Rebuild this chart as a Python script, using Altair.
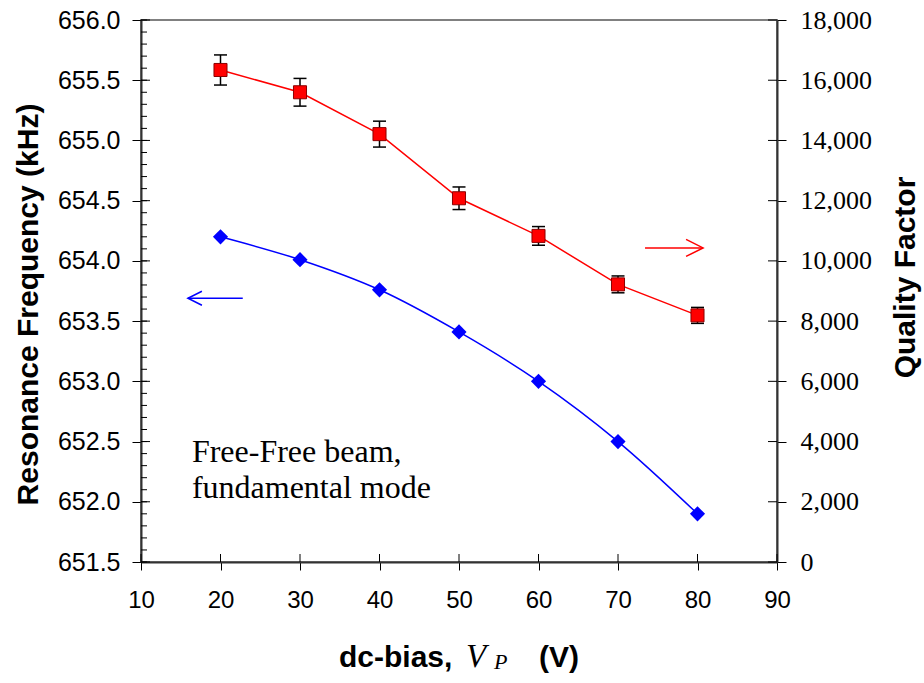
import altair as alt
import pandas as pd

# ---------------- data ----------------
bias_v = [20, 30, 40, 50, 60, 70, 80]
freq_khz = [654.20, 654.01, 653.76, 653.41, 653.00, 652.50, 651.90]
quality = [16340, 15600, 14210, 12080, 10830, 9220, 8190]
quality_err = [500, 460, 430, 375, 310, 280, 265]

x_ticks = [10, 20, 30, 40, 50, 60, 70, 80, 90]
freq_ticks = [651.5, 652.0, 652.5, 653.0, 653.5, 654.0, 654.5, 655.0, 655.5, 656.0]
freq_minor = [round(651.5 + 0.1 * i, 1) for i in range(46)]
q_ticks = [0, 2000, 4000, 6000, 8000, 10000, 12000, 14000, 16000, 18000]

note_lines = ["Free-Free beam,", "fundamental mode"]
note_x = [16.4, 16.4]
note_y = [652.33, 652.03]

# arrows (data coordinates)
blue_arrow = {"x0": [22.8], "x1": [15.9], "f": [653.69]}
red_arrow = {"x0": [73.4], "x1": [80.7], "q": [10430]}

# x-axis title pieces
xt_text = ["dc-bias,", "V", "P", "(V)"]

# ---------------- frames ----------------
df = pd.DataFrame({"V": bias_v, "F": freq_khz, "Q": quality, "E": quality_err})
df["lo"] = df["Q"] - df["E"]
df["hi"] = df["Q"] + df["E"]

BLUE = "#0000FF"
RED = "#FF0000"
AX = "#333333"

xs = alt.Scale(domain=[10, 90], nice=False, zero=False)
fs = alt.Scale(domain=[651.5, 656.0], nice=False, zero=False)
qs = alt.Scale(domain=[0, 18000], nice=False, zero=False)

x_axis = alt.Axis(values=x_ticks, title=None, labelFont="Liberation Sans", labelFontSize=24,
                  labelColor="black", labelPadding=18, labelFlush=False, tickSize=8,
                  tickColor="black", tickWidth=1, domainColor=AX, domainWidth=2, grid=False,
                  orient="bottom")
left_axis = alt.Axis(values=freq_ticks, format=".1f", title="Resonance Frequency (kHz)", orient="left",
                     titleFont="Liberation Sans", titleFontSize=30, titleFontWeight="bold",
                     titleColor="black", titleAngle=270, titleX=-113, titleY=284,
                     titleAlign="center", titleBaseline="middle",
                     labelFont="Liberation Sans", labelFontSize=25, labelColor="black",
                     labelPadding=12, labelFlush=False, tickSize=9, tickColor="black", tickWidth=1,
                     domainColor=AX, domainWidth=2, grid=False)
right_axis = alt.Axis(values=q_ticks, format=",.0f", title="Quality Factor", orient="right",
                      titleFont="Liberation Sans", titleFontSize=30, titleFontWeight="bold",
                      titleColor="black", titleAngle=270, titleX=128, titleY=257,
                      titleAlign="center", titleBaseline="middle",
                      labelFont="Liberation Serif", labelFontSize=26, labelColor="black",
                      labelPadding=14, labelFlush=False, tickSize=9, tickColor="black", tickWidth=1,
                      domainColor=AX, domainWidth=2, grid=False)


def X(field):
    # the same axis on every layer, so the shared x axis merges cleanly
    return alt.X(field, scale=xs, axis=x_axis)


base = alt.Chart(df)

# ---- frequency (left axis) layers ----
blue_line = base.mark_line(color=BLUE, strokeWidth=1.5, interpolate="catmull-rom").encode(
    x=X("V:Q"), y=alt.Y("F:Q", scale=fs, axis=left_axis))
blue_pts = base.mark_point(shape="diamond", filled=True, color=BLUE, size=230, opacity=1).encode(
    x=X("V:Q"), y=alt.Y("F:Q", scale=fs, axis=None))
minor_in = alt.Chart(pd.DataFrame({"t": freq_minor})).mark_rule(color="black", strokeWidth=1).encode(
    y=alt.Y("t:Q", scale=fs, axis=None), x=alt.value(0), x2=alt.value(6))
major_in = alt.Chart(pd.DataFrame({"t": freq_ticks})).mark_rule(color="black", strokeWidth=1).encode(
    y=alt.Y("t:Q", scale=fs, axis=None), x=alt.value(0), x2=alt.value(9))
bottom_in = alt.Chart(pd.DataFrame({"t": x_ticks})).mark_rule(color="black", strokeWidth=1).encode(
    x=X("t:Q"), y=alt.value(542), y2=alt.value(534))

ba = alt.Chart(pd.DataFrame(blue_arrow))
blue_shaft = ba.mark_rule(color=BLUE, strokeWidth=1.5).encode(
    x=X("x0:Q"), x2="x1:Q", y=alt.Y("f:Q", scale=fs, axis=None))
blue_head = ba.mark_point(shape="M 2 -1 L 0 0 L 2 1", filled=False, color=BLUE, size=196,
                          strokeWidth=1.5, opacity=1).encode(
    x=X("x1:Q"), y=alt.Y("f:Q", scale=fs, axis=None))

note = alt.Chart(pd.DataFrame({"s": note_lines, "x": note_x, "y": note_y})).mark_text(
    align="left", baseline="alphabetic", font="Liberation Serif", fontSize=32, color="black").encode(
    x=X("x:Q"), y=alt.Y("y:Q", scale=fs, axis=None), text="s:N")

one = pd.DataFrame({"k": [0]})
xt1 = alt.Chart(one).mark_text(align="left", baseline="alphabetic", font="Liberation Sans",
                               fontSize=30, fontWeight="bold", color="black").encode(
    x=alt.value(198), y=alt.value(647), text=alt.value(xt_text[0]))
xt2 = alt.Chart(one).mark_text(align="left", baseline="alphabetic", font="Liberation Serif",
                               fontSize=33, fontStyle="italic", color="black").encode(
    x=alt.value(325), y=alt.value(647), text=alt.value(xt_text[1]))
xt3 = alt.Chart(one).mark_text(align="left", baseline="alphabetic", font="Liberation Serif",
                               fontSize=22, fontStyle="italic", color="black").encode(
    x=alt.value(353), y=alt.value(649), text=alt.value(xt_text[2]))
xt4 = alt.Chart(one).mark_text(align="left", baseline="alphabetic", font="Liberation Sans",
                               fontSize=30, fontWeight="bold", color="black").encode(
    x=alt.value(398), y=alt.value(647), text=alt.value(xt_text[3]))

# ---- quality factor (right axis) layers ----
red_line = base.mark_line(color=RED, strokeWidth=1.5).encode(
    x=X("V:Q"), y=alt.Y("Q:Q", scale=qs, axis=right_axis))
err = base.mark_rule(color="black", strokeWidth=1.5).encode(
    x=X("V:Q"), y=alt.Y("lo:Q", scale=qs, axis=None), y2="hi:Q")
cap_lo = base.mark_tick(color="black", orient="horizontal", size=13, thickness=1.5, opacity=1).encode(
    x=X("V:Q"), y=alt.Y("lo:Q", scale=qs, axis=None))
cap_hi = base.mark_tick(color="black", orient="horizontal", size=13, thickness=1.5, opacity=1).encode(
    x=X("V:Q"), y=alt.Y("hi:Q", scale=qs, axis=None))
red_pts = base.mark_point(shape="square", filled=True, fill=RED, stroke="#8B0000", strokeWidth=1,
                          size=170, opacity=1).encode(
    x=X("V:Q"), y=alt.Y("Q:Q", scale=qs, axis=None))
right_in = alt.Chart(pd.DataFrame({"t": q_ticks})).mark_rule(color="black", strokeWidth=1).encode(
    y=alt.Y("t:Q", scale=qs, axis=None), x=alt.value(627), x2=alt.value(636))

ra = alt.Chart(pd.DataFrame(red_arrow))
red_shaft = ra.mark_rule(color=RED, strokeWidth=1.5).encode(
    x=X("x0:Q"), x2="x1:Q", y=alt.Y("q:Q", scale=qs, axis=None))
red_head = ra.mark_point(shape="M -2 -1 L 0 0 L -2 1", filled=False, color=RED, size=289,
                         strokeWidth=1.5, opacity=1).encode(
    x=X("x1:Q"), y=alt.Y("q:Q", scale=qs, axis=None))

# every y scale has an explicit, fixed domain, so independent y scales map identically
chart = alt.layer(
    blue_line, blue_pts, minor_in, major_in, bottom_in, right_in,
    blue_shaft, blue_head, note,
    red_line, err, cap_lo, cap_hi, red_pts, red_shaft, red_head,
    xt1, xt2, xt3, xt4,
).resolve_scale(y="independent").properties(
    width=636, height=542,
    autosize=alt.AutoSizeParams(type="none"),
    padding={"left": 141, "top": 20, "right": 147, "bottom": 121},
    background="white",
).configure_view(stroke="#808080", strokeWidth=2)

chart.save("out.html", embed_options={"renderer": "svg", "actions": False})
